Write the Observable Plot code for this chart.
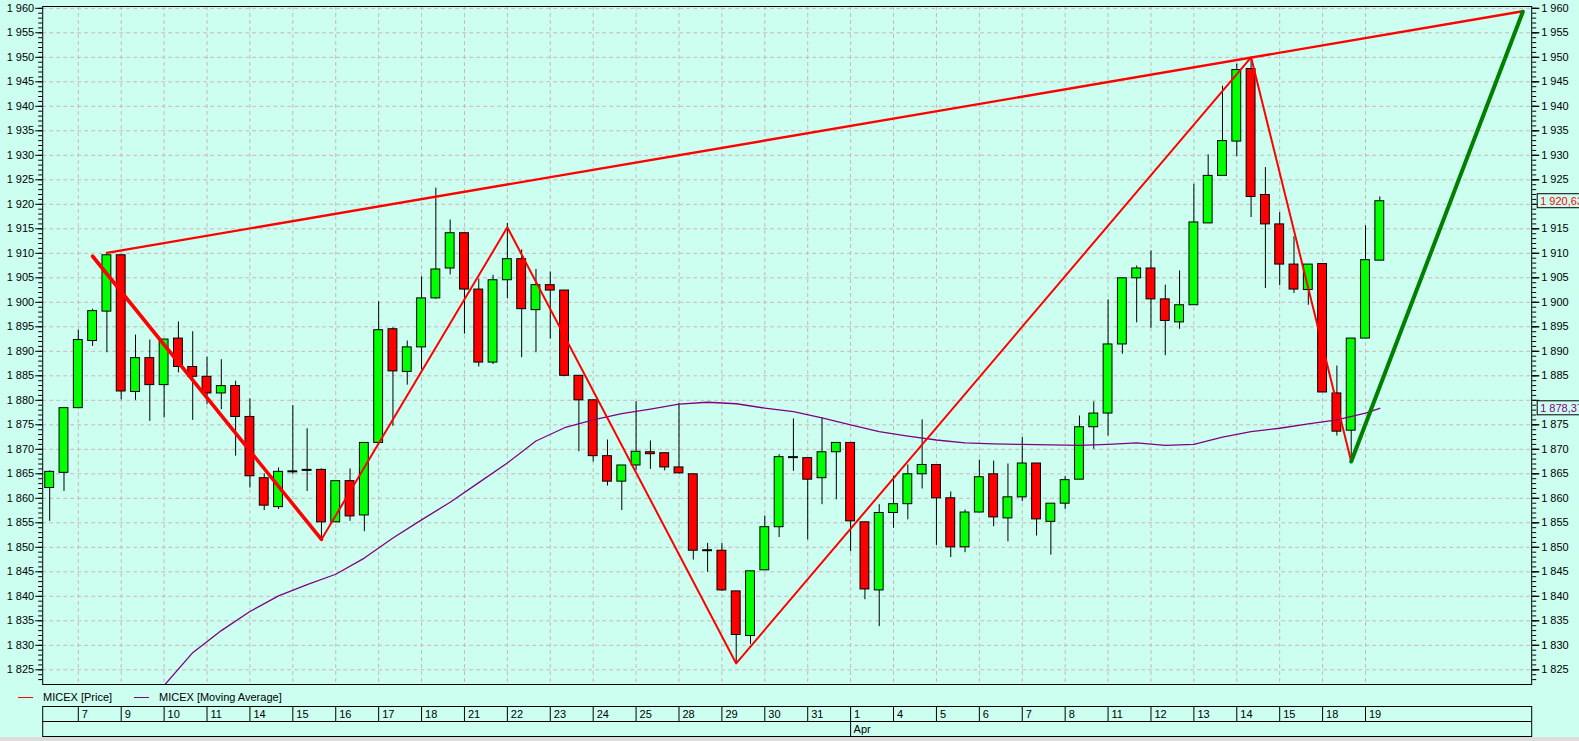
<!DOCTYPE html>
<html>
<head>
<meta charset="utf-8">
<script src="https://cdn.jsdelivr.net/npm/d3@7"></script>
<script src="https://cdn.jsdelivr.net/npm/@observablehq/plot@0.6"></script>
<style>
  html, body { margin: 0; padding: 0; background: #ccfff0; width: 1579px; height: 741px; overflow: hidden;
    font-family: "Liberation Sans", Arial, sans-serif; font-size: 11px; color: #000; }
  svg { display: block; }
  #legend { position: relative; height: 19px; }
  #legend .ln { position: absolute; top: 11px; height: 1px; width: 15px; }
  #legend .tx { position: absolute; top: 6px; line-height: 11px; white-space: nowrap; }
  #strip { height: 4px; background: #dcdcdc; }
</style>
</head>
<body>
<div id="chart"></div>
<div id="legend">
  <div class="ln" style="left:18px;background:#ff0000"></div>
  <div class="tx" style="left:43px">MICEX [Price]</div>
  <div class="ln" style="left:134px;background:#800080"></div>
  <div class="tx" style="left:159px">MICEX [Moving Average]</div>
</div>
<div id="dates"></div>
<div id="strip"></div>
<script>
// ---- data ----
const candleIndex = d3.range(-2, 92);
const open = [1862.1,1865.2,
  1878.4,1892.1,1898.1, 1909.6,1881.7,1888.6, 1883.1,1892.6,1886.8, 1884.8,1881.4,1882.9,
  1876.6,1864.1,1858.2, 1865.3,1865.6,1865.8, 1855.1,1863.5,1856.5, 1871.3,1894.5,1885.8,
  1890.8,1900.8,1906.9, 1914.1,1902.6,1887.7, 1904.5,1908.8,1898.4, 1903.5,1902.4,1885.0,
  1880.0,1868.6,1863.4, 1866.7,1869.4,1869.2, 1866.3,1864.9,1849.2, 1849.3,1841.0,1831.9,
  1845.3,1854.1,1868.2, 1868.2,1864.1,1869.4, 1871.3,1855.1,1841.2, 1857.0,1858.8,1864.9,
  1866.8,1860.0,1850.0, 1857.1,1864.9,1855.9, 1860.2,1867.1,1855.2, 1858.9,1863.8,1874.5,
  1877.3,1891.4,1904.9, 1906.9,1900.6,1895.9, 1899.4,1916.1,1925.8, 1932.8,1947.6,1921.9,
  1915.9,1907.7,1902.5, 1907.8,1881.4,1873.8, 1892.6,1908.5];
const high = [1865.6,1878.5,
  1894.3,1898.6,1909.6, 1909.6,1893.3,1892.3, 1892.4,1896.0,1894.0, 1888.8,1888.3,1883.9,
  1880.3,1865.0,1866.2, 1878.9,1874.2,1866.0, 1863.5,1866.0,1871.3, 1900.1,1894.8,1892.1,
  1905.2,1923.3,1916.8, 1914.1,1904.7,1905.5, 1916.1,1910.7,1906.7, 1906.2,1902.4,1885.0,
  1880.0,1871.9,1866.7, 1879.7,1871.7,1869.2, 1879.4,1864.9,1850.8, 1850.8,1841.0,1845.1,
  1856.4,1868.9,1876.2, 1868.2,1876.4,1871.3, 1871.3,1855.1,1858.7, 1864.5,1866.8,1876.0,
  1866.8,1861.3,1857.6, 1867.8,1867.6,1867.0, 1872.4,1867.1,1858.9, 1864.4,1876.8,1879.7,
  1900.5,1904.9,1907.4, 1910.5,1903.5,1906.4, 1924.1,1930.1,1944.1, 1948.6,1949.8,1927.5,
  1918.3,1913.4,1907.7, 1907.8,1887.0,1892.6, 1915.6,1921.5];
const low = [1855.3,1861.4,
  1878.4,1891.0,1889.7, 1880.1,1880.0,1875.7, 1876.4,1885.6,1875.9, 1879.1,1878.1,1868.6,
  1862.1,1857.5,1857.7, 1864.8,1861.4,1852.0, 1855.0,1855.3,1853.2, 1871.0,1874.7,1883.1,
  1886.2,1900.6,1905.6, 1893.5,1886.8,1887.3, 1900.7,1888.7,1889.7, 1892.5,1884.8,1869.5,
  1867.4,1862.5,1857.5, 1865.7,1865.9,1865.6, 1864.9,1847.4,1844.9, 1841.0,1826.3,1830.2,
  1845.3,1852.0,1865.5, 1851.5,1858.7,1859.7, 1849.1,1839.3,1833.8, 1853.9,1855.6,1861.9,
  1850.4,1847.9,1848.9, 1857.1,1854.2,1851.1, 1859.3,1852.3,1848.4, 1857.7,1863.8,1870.0,
  1872.7,1889.4,1895.8, 1894.7,1889.1,1894.5, 1899.4,1916.1,1925.8, 1929.7,1917.3,1902.8,
  1903.4,1901.8,1899.4, 1881.6,1872.7,1867.5, 1892.6,1908.5];
const close = [1865.4,1878.4,
  1892.3,1898.2,1909.6, 1881.8,1888.6,1883.1, 1892.4,1886.8,1884.8, 1881.4,1882.9,1876.6,
  1864.5,1858.5,1865.4, 1865.5,1865.8,1855.1, 1863.5,1856.3,1871.3, 1894.3,1885.9,1890.8,
  1900.8,1906.7,1914.1, 1902.6,1887.7,1904.5, 1908.8,1898.6,1903.5, 1902.4,1885.0,1880.0,
  1868.6,1863.4,1866.7, 1869.5,1869.0,1866.3, 1865.1,1849.3,1849.4, 1841.2,1832.1,1845.1,
  1854.1,1868.4,1868.4, 1863.8,1869.4,1871.3, 1855.3,1841.4,1857.0, 1858.8,1864.9,1866.8,
  1860.0,1850.0,1857.1, 1864.3,1856.1,1860.2, 1867.1,1855.7,1858.9, 1863.7,1874.5,1877.3,
  1891.4,1904.9,1906.9, 1900.6,1896.2,1899.4, 1916.3,1925.8,1932.9, 1947.4,1921.5,1915.9,
  1907.7,1902.6,1907.7, 1881.6,1873.6,1892.6, 1908.6,1920.63];

const maIndex = [5,6,8,10,12,14,16,18,20,22,24,26,28,30,32,34,36,38,40,42,44,46,48,50,52,54,56,58,60,62,64,66,68,70,72,74,76,78,80,82,84,86,88,90,91];
const maValue = [1818.5,1821.8,1828.5,1833.0,1836.9,1840.1,1842.4,1844.5,1847.8,1851.9,1855.6,1859.2,1863.2,1867.2,1871.7,1874.4,1876.0,1877.3,1878.2,1879.2,1879.6,1879.3,1878.4,1877.7,1876.4,1875.0,1873.6,1872.7,1871.9,1871.3,1871.1,1871.0,1870.9,1870.8,1871.0,1871.3,1870.8,1871.0,1872.5,1873.6,1874.3,1875.2,1876.0,1877.4,1878.37];

const zigIndex = [1, 17, 30, 46, 82, 89];
const zigValue = [1909.4, 1851.6, 1915.3, 1826.3, 1950.0, 1867.5];
const trendIndex = [2, 101];
const trendValue = [1910.1, 1959.4];
const projIndex = [89, 101];
const projValue = [1867.5, 1959.3];

const dayLabels = ["7","9","10","11","14","15","16","17","18","21","22","23","24","25","28","29","30","31","1","4","5","6","7","8","11","12","13","14","15","18","19"];
const dayStart = dayLabels.map((d, k) => k * 3);
const monthLabels = ["Apr"];
const monthStart = [54];

const majorTicks = d3.range(1825, 1961, 5);
const minorTicks = d3.range(1823, 1961, 1);

// ---- build ----
const W = 1579;
const BG = "#ccfff0";
const GRID = "#c8b8b8";
const xDomain = [-2.489, 101.62];
const yDomain = [1822.0, 1960.37];
const fmtInt = v => { const s = String(v); return s.slice(0, -3) + " " + s.slice(-3); };
const fmtDec = v => { const s = d3.format(".2f")(v); const [a, b] = s.split("."); return fmtInt(+a) + "," + b; };
const noText = () => "";

const candles = candleIndex.map((i, k) => ({i, o: open[k], h: high[k], l: low[k], c: close[k]}));
const ma = maIndex.map((i, k) => ({i, v: maValue[k]}));
const zig = zigIndex.map((i, k) => ({i, v: zigValue[k]}));
const trend = trendIndex.map((i, k) => ({i, v: trendValue[k]}));
const proj = projIndex.map((i, k) => ({i, v: projValue[k]}));
const lastPrice = close[close.length - 1];
const lastMA = maValue[maValue.length - 1];
const xEnd = () => xDomain[1];
// right-axis labels hidden under the value boxes are not drawn
const rightLabelTicks = majorTicks.filter(t => Math.abs(t - lastPrice) > 2.2 && Math.abs(t - lastMA) > 2.2);

const common = {
  width: W,
  marginLeft: 42.2, marginRight: 47.8,
  style: {background: "transparent", fontFamily: "'Liberation Sans', Arial, sans-serif", fontSize: "11px", color: "#000", overflow: "visible"},
  x: {domain: xDomain, axis: null}
};

const chart = Plot.plot({
  ...common,
  height: 686, marginTop: 6, marginBottom: 2,
  y: {domain: yDomain, axis: null},
  marks: [
    Plot.ruleY(majorTicks, {stroke: GRID, strokeDasharray: "4,3"}),
    Plot.ruleX(dayStart, {stroke: GRID, strokeDasharray: "4,3"}),
    Plot.ruleX(candles, {x: "i", y1: "l", y2: "h", stroke: "#000"}),
    Plot.rect(candles, {x1: d => d.i - 0.31, x2: d => d.i + 0.31, y1: "o", y2: "c",
      fill: d => d.c > d.o ? "#00ff00" : "#ff0000", stroke: "#000", strokeWidth: 1}),
    Plot.line(ma, {x: "i", y: "v", stroke: "#800080", strokeWidth: 1.3, clip: true}),
    Plot.line(trend, {x: "i", y: "v", stroke: "#ff0000", strokeWidth: 2.4}),
    Plot.line(zig.slice(0, 2), {x: "i", y: "v", stroke: "#ff0000", strokeWidth: 3.6}),
    Plot.line(zig.slice(1), {x: "i", y: "v", stroke: "#ff0000", strokeWidth: 2}),
    Plot.line(proj, {x: "i", y: "v", stroke: "#008000", strokeWidth: 4}),
    Plot.frame({stroke: "#000"}),
    Plot.axisY(minorTicks, {anchor: "left", tickSize: 4, tickFormat: noText, label: null, stroke: "#000"}),
    Plot.axisY(majorTicks, {anchor: "left", tickSize: 7, tickPadding: 1.5, tickFormat: fmtInt, label: null, stroke: "#000", fill: "#000"}),
    Plot.axisY(minorTicks, {anchor: "right", tickSize: 4, tickFormat: noText, label: null, stroke: "#000"}),
    Plot.axisY(majorTicks, {anchor: "right", tickSize: 7, tickFormat: noText, label: null, stroke: "#000"}),
    Plot.axisY(rightLabelTicks, {anchor: "right", tickSize: 7, tickPadding: 2.5, tickFormat: fmtInt, label: null, stroke: "#000", fill: "#000"}),
    Plot.rect([lastPrice, lastMA], {x1: xEnd, x2: xEnd, y1: d => d, y2: d => d,
      insetLeft: 6, insetRight: -70, insetTop: -7, insetBottom: -7, fill: BG, stroke: "#000"}),
    Plot.text([lastPrice], {x: xEnd, y: d => d, text: fmtDec, dx: 8.5, textAnchor: "start", fill: "#ff0000"}),
    Plot.text([lastMA], {x: xEnd, y: d => d, text: fmtDec, dx: 8.5, textAnchor: "start", fill: "#800080"})
  ]
});
document.getElementById("chart").append(chart);

const dates = Plot.plot({
  ...common,
  height: 32, marginTop: 1, marginBottom: 1,
  y: {domain: [2, 0], axis: null},
  marks: [
    Plot.frame({stroke: "#000"}),
    Plot.ruleY([1], {stroke: "#000"}),
    Plot.ruleX(dayStart, {y1: 0, y2: 1, stroke: "#000"}),
    Plot.ruleX(monthStart, {y1: 1, y2: 2, stroke: "#000"}),
    Plot.text(dayStart, {x: d => d, y: 0.5, text: (d, k) => dayLabels[k], textAnchor: "start", dx: 3.5, fill: "#000"}),
    Plot.text(monthStart, {x: d => d, y: 1.5, text: (d, k) => monthLabels[k], textAnchor: "start", dx: 3, fill: "#000"})
  ]
});
document.getElementById("dates").append(dates);
</script>
</body>
</html>
